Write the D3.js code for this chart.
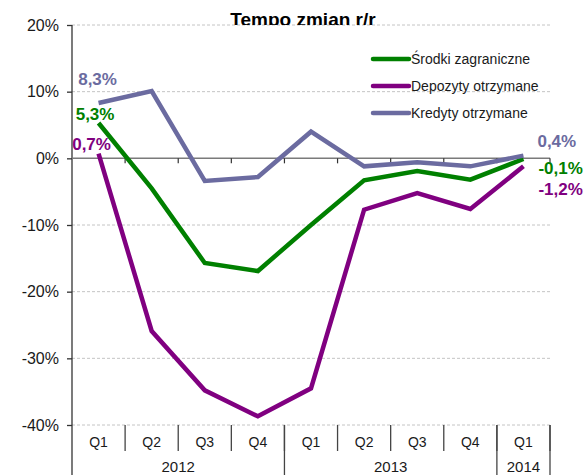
<!DOCTYPE html>
<html>
<head>
<meta charset="utf-8">
<script src="https://cdn.jsdelivr.net/npm/d3@7"></script>
<style>
  body { margin: 0; background: #fff; }
  text { font-family: Arial, "Liberation Sans", sans-serif; }
</style>
</head>
<body>
<svg id="chart"></svg>
<script>
// dane
const quarters = ["Q1", "Q2", "Q3", "Q4", "Q1", "Q2", "Q3", "Q4", "Q1"];
const years = ["2012", "2013", "2014"];
const yearSpans = [4, 4, 1];
const yTicks = [-40, -30, -20, -10, 0, 10, 20];

const seriesNames = ["Środki zagraniczne", "Depozyty otrzymane", "Kredyty otrzymane"];
const srodki = [5.3, -4.5, -15.7, -16.9, -10.0, -3.3, -1.9, -3.2, -0.1];
const depozyty = [0.7, -25.9, -34.8, -38.7, -34.5, -7.7, -5.2, -7.6, -1.2];
const kredyty = [8.3, 10.1, -3.4, -2.8, 4.0, -1.2, -0.6, -1.2, 0.4];

const colors = ["#008000", "#800080", "#6B6BA0"];

const width = 587;
const height = 475;

const svg = d3.select("#chart").attr("width", width).attr("height", height);

// skale
const x = d3.scaleBand()
  .domain(d3.range(quarters.length))
  .range([72, 550]);

const y = d3.scaleLinear()
  .domain([-40, 20])
  .range([425, 25]);

// siatka
svg.append("g")
  .selectAll("line")
  .data(yTicks.filter((d) => d !== 0))
  .enter()
  .append("line")
  .attr("x1", 72)
  .attr("x2", 550)
  .attr("y1", (d) => y(d))
  .attr("y2", (d) => y(d))
  .attr("stroke", "#c4c4c4")
  .attr("stroke-width", 1)
  .attr("stroke-dasharray", "3,2");

// tytul (przyciety na linii 20%)
svg.append("clipPath")
  .attr("id", "titleClip")
  .append("rect")
  .attr("x", 0)
  .attr("y", 0)
  .attr("width", width)
  .attr("height", y(20));

svg.append("text")
  .attr("clip-path", "url(#titleClip)")
  .attr("x", 303)
  .attr("y", 26)
  .attr("text-anchor", "middle")
  .style("font-size", "19px")
  .style("font-weight", "bold")
  .text("Tempo zmian r/r");

// os Y
const yAxis = d3.axisLeft(y)
  .tickValues(yTicks)
  .tickSize(5)
  .tickPadding(8)
  .tickFormat((d) => d + "%");

const gy = svg.append("g")
  .attr("transform", "translate(72,0)")
  .call(yAxis);

gy.select(".domain").remove();
gy.selectAll(".tick line").attr("stroke", "#333").attr("stroke-width", 1.3);
gy.selectAll(".tick text")
  .style("font-size", "16px")
  .style("font-family", "Arial, 'Liberation Sans', sans-serif")
  .attr("fill", "#1a1a1a");

svg.append("line")
  .attr("x1", 72)
  .attr("x2", 72)
  .attr("y1", y(20))
  .attr("y2", height)
  .attr("stroke", "#333")
  .attr("stroke-width", 1.3);

// linia zera z kreskami
svg.append("line")
  .attr("x1", 72)
  .attr("x2", 550)
  .attr("y1", y(0))
  .attr("y2", y(0))
  .attr("stroke", "#7a7a7a")
  .attr("stroke-width", 1.5);

svg.append("g")
  .selectAll("line")
  .data(d3.range(1, quarters.length + 1))
  .enter()
  .append("line")
  .attr("x1", (i) => x.range()[0] + i * x.step())
  .attr("x2", (i) => x.range()[0] + i * x.step())
  .attr("y1", y(0))
  .attr("y2", y(0) + 5)
  .attr("stroke", "#333")
  .attr("stroke-width", 1.2);

// os kategorii
const axisTop = y(-40);

svg.append("g")
  .selectAll("line")
  .data(d3.range(1, quarters.length + 1))
  .enter()
  .append("line")
  .attr("x1", (i) => x.range()[0] + i * x.step())
  .attr("x2", (i) => x.range()[0] + i * x.step())
  .attr("y1", axisTop)
  .attr("y2", axisTop + 26)
  .attr("stroke", "#444")
  .attr("stroke-width", 1.3);

svg.append("g")
  .selectAll("text")
  .data(quarters)
  .enter()
  .append("text")
  .attr("x", (d, i) => x(i) + x.bandwidth() / 2)
  .attr("y", axisTop + 22)
  .attr("text-anchor", "middle")
  .style("font-size", "14px")
  .attr("fill", "#1a1a1a")
  .text((d) => d);

const yearBounds = [];
let start = 0;
yearSpans.forEach((n, k) => {
  yearBounds.push({ label: years[k], from: start, to: start + n });
  start += n;
});

svg.append("g")
  .selectAll("line")
  .data(yearBounds)
  .enter()
  .append("line")
  .attr("x1", (d) => x.range()[0] + d.to * x.step())
  .attr("x2", (d) => x.range()[0] + d.to * x.step())
  .attr("y1", axisTop)
  .attr("y2", height)
  .attr("stroke", "#444")
  .attr("stroke-width", 1.3);

svg.append("g")
  .selectAll("text")
  .data(yearBounds)
  .enter()
  .append("text")
  .attr("x", (d) => x.range()[0] + ((d.from + d.to) / 2) * x.step())
  .attr("y", axisTop + 47)
  .attr("text-anchor", "middle")
  .style("font-size", "15px")
  .attr("fill", "#1a1a1a")
  .text((d) => d.label);

// serie
const allSeries = [srodki, depozyty, kredyty];

const line = d3.line()
  .x((d, i) => x(i) + x.bandwidth() / 2)
  .y((d) => y(d));

svg.append("g")
  .selectAll("path")
  .data(allSeries)
  .enter()
  .append("path")
  .attr("d", (d) => line(d))
  .attr("fill", "none")
  .attr("stroke", (d, i) => colors[i])
  .attr("stroke-width", 4.5)
  .attr("stroke-linejoin", "miter");

// etykiety wartosci
const fmt = (v) => v.toFixed(1).replace(".", ",") + "%";

const firstLabels = [
  { s: 0, dx: -3.5, dy: -7 },
  { s: 1, dx: -7, dy: -8 },
  { s: 2, dx: -1, dy: -22 }
];
const lastLabels = [
  { s: 0, dx: 15, dy: 11 },
  { s: 1, dx: 15, dy: 24 },
  { s: 2, dx: 14, dy: -13 }
];

const labelGroup = svg.append("g")
  .style("font-size", "17px")
  .style("font-weight", "bold");

labelGroup.selectAll("text.first")
  .data(firstLabels)
  .enter()
  .append("text")
  .attr("class", "first")
  .attr("x", (d) => x(0) + x.bandwidth() / 2 + d.dx)
  .attr("y", (d) => y(allSeries[d.s][0]) + d.dy)
  .attr("text-anchor", "middle")
  .attr("dominant-baseline", "middle")
  .attr("fill", (d) => colors[d.s])
  .text((d) => fmt(allSeries[d.s][0]));

const last = quarters.length - 1;
labelGroup.selectAll("text.last")
  .data(lastLabels)
  .enter()
  .append("text")
  .attr("class", "last")
  .attr("x", (d) => x(last) + x.bandwidth() / 2 + d.dx)
  .attr("y", (d) => y(allSeries[d.s][last]) + d.dy)
  .attr("text-anchor", "start")
  .attr("dominant-baseline", "middle")
  .attr("fill", (d) => colors[d.s])
  .text((d) => fmt(allSeries[d.s][last]));

// legenda
const legend = svg.append("g")
  .selectAll("g")
  .data(seriesNames)
  .enter()
  .append("g")
  .attr("transform", (d, i) => `translate(373, ${59 + i * 27})`);

legend.append("line")
  .attr("x1", 0)
  .attr("x2", 36)
  .attr("stroke", (d, i) => colors[i])
  .attr("stroke-width", 4.5)
  .attr("stroke-linecap", "round");

legend.append("text")
  .attr("x", 38)
  .attr("dy", "0.35em")
  .style("font-size", "14px")
  .attr("fill", "#1a1a1a")
  .text((d) => d);
</script>
</body>
</html>
